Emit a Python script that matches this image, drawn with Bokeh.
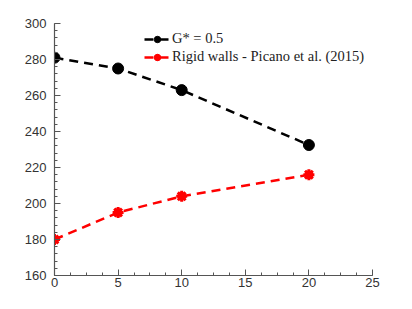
from bokeh.plotting import figure
from bokeh.models import Range1d, Legend, LegendItem, SingleIntervalTicker
from bokeh.embed import file_html
from bokeh.resources import INLINE

# data
x_vals = [0, 5, 10, 20]
g05_vals = [281, 275, 263, 232.5]
rigid_vals = [180, 195, 204, 216]
label_g = "G* = 0.5"
label_r = "Rigid walls - Picano et al. (2015)"

p = figure(width=404, height=301, output_backend="svg", toolbar_location=None,
           x_range=Range1d(0, 25), y_range=Range1d(160, 300),
           min_border_left=54, min_border_right=32, min_border_top=23, min_border_bottom=26)
p.outline_line_color = None
p.grid.visible = False
p.background_fill_color = "white"
p.border_fill_color = "white"

r1 = p.line(x_vals, g05_vals, line_color="black", line_width=2.5, line_dash="9 6")
s1 = p.scatter(x_vals, g05_vals, marker="circle", size=11, fill_color="black", line_color="black")

r2 = p.line(x_vals, rigid_vals, line_color="#ff0000", line_width=2.5, line_dash="9 6")
s2a = p.scatter(x_vals, rigid_vals, marker="circle", size=8, fill_color="#ff0000", line_color="#ff0000")
s2b = p.scatter(x_vals, rigid_vals, marker="asterisk", size=11, line_color="#ff0000", line_width=3)

for ax in (p.xaxis[0], p.yaxis[0]):
    ax.major_tick_in = 6
    ax.major_tick_out = 0
    ax.minor_tick_in = 3
    ax.minor_tick_out = 0
    ax.axis_line_color = "#555555"
    ax.axis_line_width = 1.2
    ax.major_tick_line_color = "#555555"
    ax.minor_tick_line_color = "#555555"
    ax.major_label_text_font = "Liberation Sans"
    ax.major_label_text_font_size = "13px"
    ax.major_label_text_color = "#333333"

p.xaxis[0].ticker = SingleIntervalTicker(interval=5, num_minor_ticks=4)
p.yaxis[0].ticker = SingleIntervalTicker(interval=20, num_minor_ticks=5)
p.xaxis[0].major_label_standoff = 2
p.yaxis[0].major_label_standoff = 8

legend = Legend(items=[LegendItem(label=label_g, renderers=[r1, s1]),
                       LegendItem(label=label_r, renderers=[r2, s2a, s2b])],
                location=(90, 210), border_line_color=None, background_fill_alpha=0,
                padding=0, margin=0, spacing=1, label_standoff=2,
                glyph_width=26, glyph_height=16, label_height=16,
                label_text_font="Liberation Serif", label_text_font_size="14.5px",
                label_text_color="#222222")
p.add_layout(legend)

open("out.html", "w").write(file_html(p, INLINE))
